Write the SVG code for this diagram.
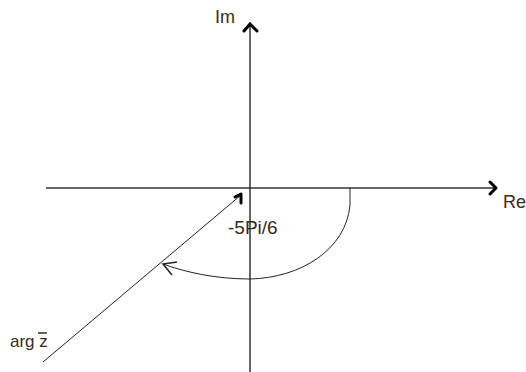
<svg xmlns="http://www.w3.org/2000/svg" width="526" height="372" viewBox="0 0 526 372">
<style>
.ax{stroke:#333;stroke-width:1.5;fill:none}
.ln{stroke:#222;stroke-width:1;fill:none}
.hd{stroke:#000;stroke-width:3;fill:none;stroke-linecap:round;stroke-linejoin:round}
.t{font-family:"Liberation Sans",Arial,sans-serif;font-size:18px;fill:#3a2a1a}
</style>
<rect width="526" height="372" fill="#fff"/>
<g id="axes">
<g id="re-axis"><line class="ax" x1="46" y1="188" x2="496" y2="188"/><polyline class="hd" points="490,182 496,188 490,194"/></g>
<g id="im-axis"><line class="ax" x1="250" y1="372" x2="250" y2="22"/><polyline class="hd" points="244,31 250,24 257,31"/></g>
</g>
<g id="connectors">
<line class="ln" x1="43" y1="362" x2="241" y2="195"/>
<path class="hd" d="M235,197 L241,194 L241,203"/>
<path class="ln" d="M350,188 L350,205 C346,250 300,278 250,279 C215,279 185,272 163,264"/>
<path class="ln" d="M177,262 L163,264 L172,275" style="stroke-width:1.5"/>
</g>
<g id="labels">
<text class="t" x="215" y="23">Im</text>
<text class="t" x="503" y="208">Re</text>
<text class="t" x="228" y="234" style="font-size:19px">-5Pi/6</text>
<text class="t" x="10" y="347" style="font-size:17px">arg z</text>
<line x1="38" y1="333" x2="47" y2="333" stroke="#3a2a1a" stroke-width="1.5"/>
</g>
</svg>
